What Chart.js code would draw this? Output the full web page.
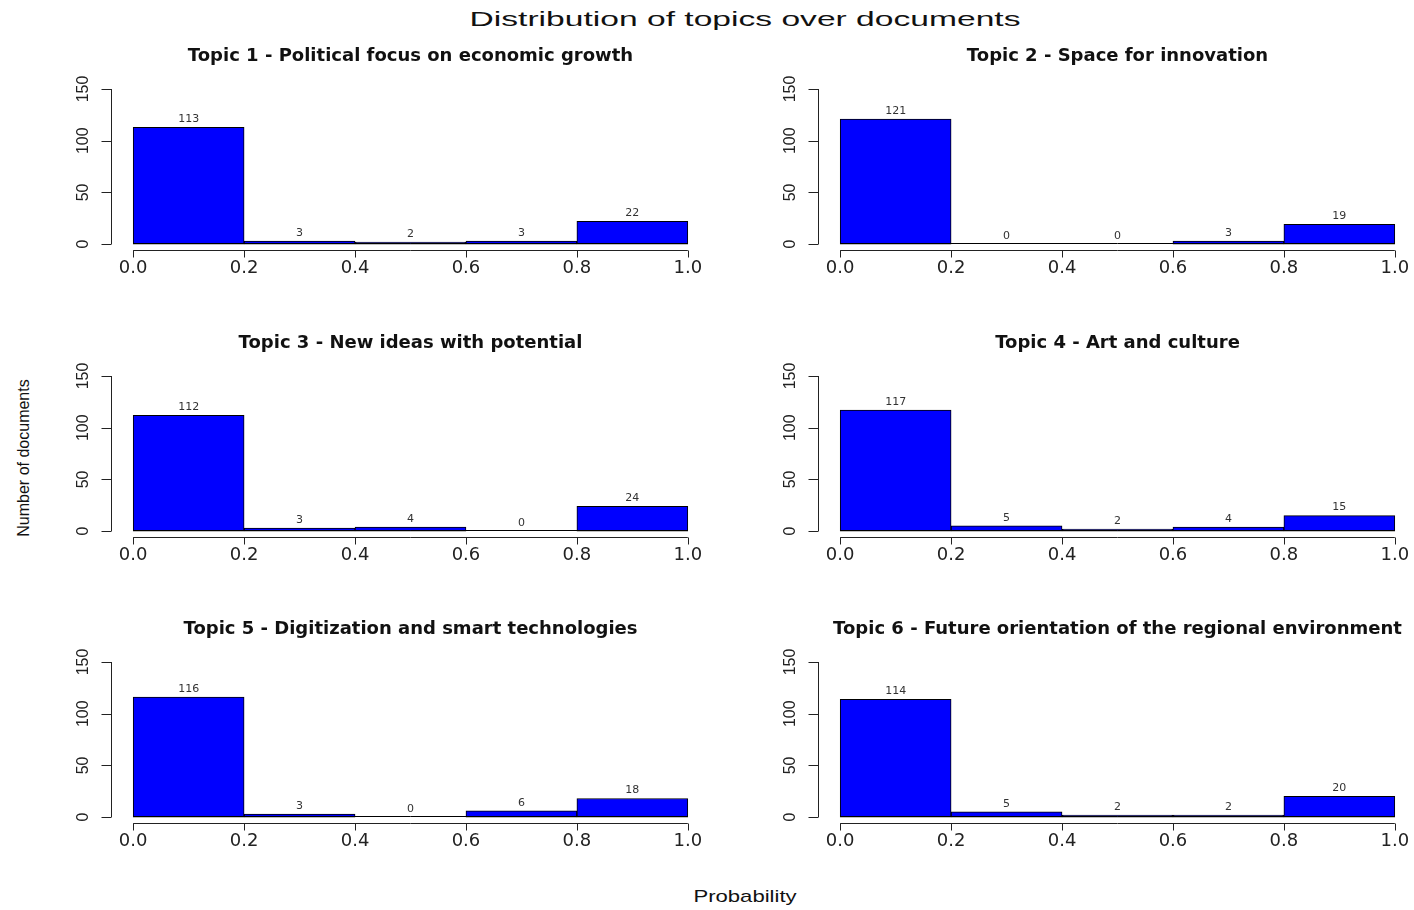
<!DOCTYPE html>
<html>
<head>
<meta charset="utf-8">
<title>Distribution of topics over documents</title>
<script src="https://cdn.jsdelivr.net/npm/chart.js@4.4.0/dist/chart.umd.min.js"></script>
<style>
  html, body { margin: 0; padding: 0; background: #fff; overflow: hidden; }
  #page { position: relative; width: 1414px; height: 910px; }
  .panel { position: absolute; }
  .lbl {
    position: absolute;
    font-family: "Liberation Sans", Arial, sans-serif;
    color: #111;
    white-space: nowrap;
    transform-origin: center center;
  }
  #mainTitle { left: 745px; top: 19px; font-size: 21px; transform: translate(-50%, -50%) scaleX(1.6); }
  #xTitle { left: 745px; top: 897px; font-size: 17px; transform: translate(-50%, -50%) scaleX(1.3); }
  #yTitle { left: 24px; top: 458px; font-size: 16px; transform: translate(-50%, -50%) rotate(-90deg); }
</style>
</head>
<body>
<div id="page">
  <div class="lbl" id="mainTitle">Distribution of topics over documents</div>
  <div class="lbl" id="yTitle">Number of documents</div>
  <div class="lbl" id="xTitle">Probability</div>
</div>

<script>
// histogram bins (probability), same for every topic
const binCenters = [0.1, 0.3, 0.5, 0.7, 0.9];
const xTicks = [0, 0.2, 0.4, 0.6, 0.8, 1.0];
const yTicks = [0, 50, 100, 150];

const topicTitles = [
  "Topic 1 - Political focus on economic growth",
  "Topic 2 - Space for innovation",
  "Topic 3 - New ideas with potential",
  "Topic 4 - Art and culture",
  "Topic 5 - Digitization and smart technologies",
  "Topic 6 - Future orientation of the regional environment"
];

// number of documents per bin
const topic1Counts = [113, 3, 2, 3, 22];
const topic2Counts = [121, 0, 0, 3, 19];
const topic3Counts = [112, 3, 4, 0, 24];
const topic4Counts = [117, 5, 2, 4, 15];
const topic5Counts = [116, 3, 0, 6, 18];
const topic6Counts = [114, 5, 2, 2, 20];

const topicCounts = [topic1Counts, topic2Counts, topic3Counts, topic4Counts, topic5Counts, topic6Counts];

// R style axes: detached lines that only cover the tick range
const rAxes = {
  id: "rAxes",
  afterDatasetsDraw(chart) {
    const { ctx, chartArea, scales } = chart;
    const x = scales.x, y = scales.y;
    ctx.save();
    ctx.lineWidth = 1;

    // baseline of the histogram (empty bins show as a line)
    const yZero = Math.round(y.getPixelForValue(0)) - 0.5;
    ctx.strokeStyle = "#000";
    ctx.beginPath();
    ctx.moveTo(x.getPixelForValue(xTicks[0]), yZero);
    ctx.lineTo(x.getPixelForValue(xTicks[xTicks.length - 1]), yZero);
    ctx.stroke();

    // count labels above bars
    ctx.font = "11px 'DejaVu Sans'";
    ctx.fillStyle = "#333";
    ctx.textAlign = "center";
    ctx.textBaseline = "middle";
    const meta = chart.getDatasetMeta(0);
    const vals = chart.data.datasets[0].data;
    meta.data.forEach((bar, i) => {
      ctx.fillText(String(vals[i].y), bar.x, bar.y - 8);
    });

    // x axis
    ctx.strokeStyle = "#222";
    const xa = Math.round(chartArea.bottom) + 0.5;
    ctx.beginPath();
    ctx.moveTo(x.getPixelForValue(xTicks[0]), xa);
    ctx.lineTo(x.getPixelForValue(xTicks[xTicks.length - 1]), xa);
    xTicks.forEach(v => {
      const px = Math.round(x.getPixelForValue(v)) + 0.5;
      ctx.moveTo(px, xa);
      ctx.lineTo(px, xa + 7);
    });
    ctx.stroke();
    ctx.font = "18px 'DejaVu Sans'";
    ctx.fillStyle = "#222";
    xTicks.forEach(v => {
      ctx.fillText(v.toFixed(1), x.getPixelForValue(v), xa + 18);
    });

    // y axis
    const ya = Math.round(chartArea.left) + 0.5;
    ctx.beginPath();
    ctx.moveTo(ya, y.getPixelForValue(yTicks[0]));
    ctx.lineTo(ya, y.getPixelForValue(yTicks[yTicks.length - 1]));
    yTicks.forEach(v => {
      const py = Math.round(y.getPixelForValue(v)) + 0.5;
      ctx.moveTo(ya, py);
      ctx.lineTo(ya - 10, py);
    });
    ctx.stroke();
    ctx.font = "16px 'Liberation Sans'";
    yTicks.forEach(v => {
      ctx.save();
      ctx.translate(ya - 28, y.getPixelForValue(v));
      ctx.rotate(-Math.PI / 2);
      ctx.fillText(String(v), 0, 0);
      ctx.restore();
    });
    ctx.restore();
  }
};

const page = document.getElementById("page");
const colLeft = [0, 707];
const rowTop = [0, 287, 573];

topicCounts.forEach((counts, i) => {
  const canvas = document.createElement("canvas");
  canvas.className = "panel";
  canvas.width = 712;
  canvas.height = 287;
  canvas.style.left = colLeft[i % 2] + "px";
  canvas.style.top = rowTop[Math.floor(i / 2)] + "px";
  page.appendChild(canvas);

  new Chart(canvas.getContext("2d"), {
    type: "bar",
    data: {
      datasets: [{
        data: binCenters.map((c, k) => ({ x: c, y: counts[k] })),
        backgroundColor: "#0000ff",
        borderColor: "#000",
        borderWidth: 1,
        borderSkipped: false,
        barPercentage: 1,
        categoryPercentage: 1
      }]
    },
    options: {
      responsive: false,
      animation: false,
      devicePixelRatio: 1,
      layout: { padding: { left: 111, right: 2, top: 0, bottom: 36.7 } },
      plugins: {
        legend: { display: false },
        tooltip: { enabled: false },
        title: {
          display: true,
          text: topicTitles[i],
          color: "#111",
          font: { family: "DejaVu Sans", size: 18, weight: "bold", lineHeight: 1.2 },
          padding: { top: 45.2, bottom: 16 }
        }
      },
      scales: {
        x: { type: "linear", min: -0.04, max: 1.04, offset: false, display: false },
        y: { min: -6, max: 156, display: false }
      }
    },
    plugins: [rAxes]
  });
});
</script>
</body>
</html>
